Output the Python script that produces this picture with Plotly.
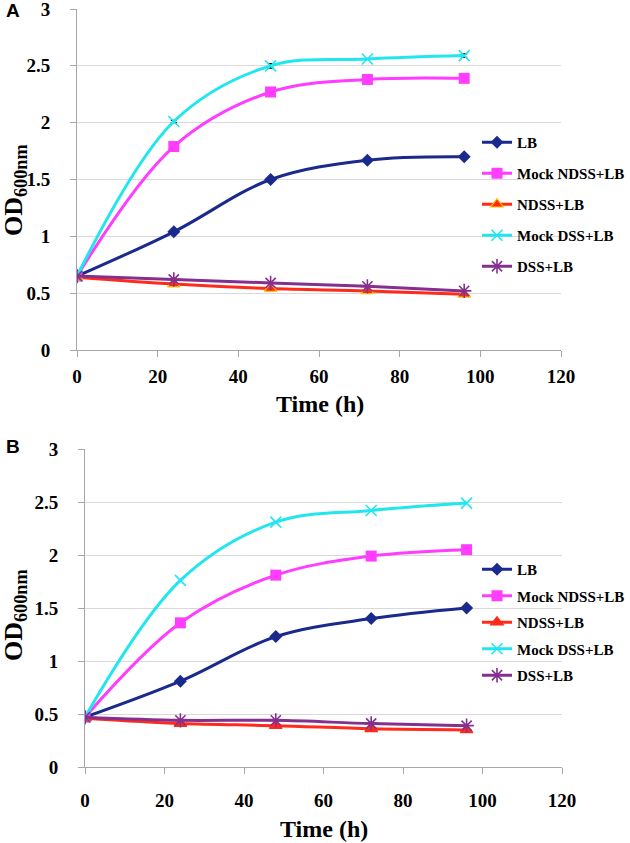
"""Bacterial growth curves (OD600) for panels A and B, redrawn with Plotly."""

import plotly.graph_objects as go

# time points (h)
hours = [0, 24, 48, 72, 96]

series_names = ["LB", "Mock NDSS+LB", "NDSS+LB", "Mock DSS+LB", "DSS+LB"]

# panel A values
a_lb = [0.65, 1.04, 1.50, 1.67, 1.70]
a_mock_ndss = [0.65, 1.79, 2.27, 2.38, 2.39]
a_ndss = [0.64, 0.58, 0.54, 0.52, 0.49]
a_mock_dss = [0.65, 2.01, 2.50, 2.56, 2.59]
a_dss = [0.65, 0.62, 0.59, 0.56, 0.52]
a_mock_dss_err = [0, 0.01, 0.02, 0, 0.015]
a_lb_err = [0, 0, 0, 0.02, 0]

# panel B values
b_lb = [0.47, 0.81, 1.23, 1.40, 1.50]
b_mock_ndss = [0.47, 1.36, 1.81, 1.99, 2.05]
b_ndss = [0.46, 0.41, 0.39, 0.36, 0.35]
b_mock_dss = [0.47, 1.76, 2.31, 2.42, 2.49]
b_dss = [0.47, 0.44, 0.44, 0.41, 0.39]

x_ticks = [0, 20, 40, 60, 80, 100, 120]
y_ticks = [0, 0.5, 1, 1.5, 2, 2.5, 3]
y_tick_labels = ["0", "0.5", "1", "1.5", "2", "2.5", "3"]

colors = ["#1a2a8c", "#ff3cff", "#ff2a1a", "#22e6ee", "#84308f"]
symbols = ["diamond", "square", "triangle-up", "x-thin", "asterisk-open"]
sizes = [10, 11, 11, 11, 12]

SERIF = "Liberation Serif"
W, H = 630, 843


def px_x(v):
    return v / W


def px_y(v):
    return 1 - v / H


fig = go.Figure()


def add_panel(values, xa, ya, legend, errors=None, tri_edge="#ff2a1a"):
    errors = errors or {}
    for i, (name, ys) in enumerate(zip(series_names, values)):
        sym_line = dict(width=0)
        if symbols[i] in ("x-thin", "asterisk-open"):
            sym_line = dict(width=1.6, color=colors[i])
        elif symbols[i] == "triangle-up":
            sym_line = dict(width=1.2, color=tri_edge)
        err = None
        if i in errors:
            err = dict(type="data", array=errors[i], visible=True,
                       color="black", thickness=1.3, width=3)
        fig.add_trace(go.Scatter(
            x=hours, y=ys, name=name, mode="lines+markers",
            xaxis=xa, yaxis=ya, legend=legend, legendgroup=legend + name,
            line=dict(color=colors[i], width=3, shape="spline", smoothing=1),
            marker=dict(symbol=symbols[i], size=sizes[i], color=colors[i], line=sym_line),
            error_y=err,
        ))


add_panel([a_lb, a_mock_ndss, a_ndss, a_mock_dss, a_dss], "x", "y", "legend",
          errors={0: a_lb_err, 3: a_mock_dss_err}, tri_edge="#ffc000")
add_panel([b_lb, b_mock_ndss, b_ndss, b_mock_dss, b_dss], "x2", "y2", "legend2")

tick_font = dict(family=SERIF, size=19, color="black", weight=700)
axis_common = dict(
    showgrid=False, showline=True, linecolor="#a6a6a6", linewidth=1.2,
    ticks="outside", ticklen=6, tickcolor="#a6a6a6", ticklabeloverflow="allow",
    tickfont=tick_font, zeroline=False, fixedrange=True, automargin=False,
)
xaxis_common = dict(axis_common, range=[0, 120], tickvals=x_ticks)
# en space + three-per-em space after each label pushes it away from the axis
yaxis_common = dict(axis_common, range=[0, 3], tickvals=y_ticks,
                    ticktext=[t + "\u2002\u2004" for t in y_tick_labels],
                    showgrid=True, gridcolor="#d9d9d9", gridwidth=1)

legend_common = dict(
    font=dict(family=SERIF, size=15, color="black", weight=700),
    bgcolor="rgba(0,0,0,0)", traceorder="grouped", itemwidth=30,
    xanchor="left", yanchor="top",
)

fig.update_layout(
    width=W, height=H,
    margin=dict(l=0, r=0, t=0, b=0, autoexpand=False),
    plot_bgcolor="white", paper_bgcolor="white",
    font=dict(family=SERIF),
    xaxis=dict(xaxis_common, domain=[px_x(77), px_x(561)], anchor="y", ticklabelstandoff=3),
    yaxis=dict(yaxis_common, domain=[px_y(350), px_y(9)], anchor="x"),
    xaxis2=dict(xaxis_common, domain=[px_x(85), px_x(562)], anchor="y2", ticklabelstandoff=10),
    yaxis2=dict(yaxis_common, domain=[px_y(767), px_y(449)], anchor="x2"),
    legend=dict(legend_common, x=px_x(477), y=px_y(126), tracegroupgap=8.5),
    legend2=dict(legend_common, x=px_x(477), y=px_y(553), tracegroupgap=4),
    showlegend=True,
)

# panel letters
for label, cy in [("A", 11), ("B", 447)]:
    fig.add_annotation(text="<b>%s</b>" % label, x=px_x(13), y=px_y(cy),
                       xref="paper", yref="paper", showarrow=False,
                       xanchor="center", yanchor="middle",
                       font=dict(family="Liberation Sans", size=19, color="black"))

# axis titles
for cx, cy in [(320, 404), (324, 829)]:
    fig.add_annotation(text="<b>Time (h)</b>", x=px_x(cx), y=px_y(cy),
                       xref="paper", yref="paper", showarrow=False,
                       xanchor="center", yanchor="middle",
                       font=dict(family=SERIF, size=24, color="black"))
for cy in [190, 615]:
    fig.add_annotation(text="<b>OD<sub>600nm</sub></b>", x=px_x(15), y=px_y(cy),
                       xref="paper", yref="paper", showarrow=False, textangle=-90,
                       xanchor="center", yanchor="middle",
                       font=dict(family=SERIF, size=26, color="black"))

# drop the page's default 8px body margin so the figure sits at the corner
fig.write_html("out.html", config={"displayModeBar": False},
               post_script="document.body.style.margin = '0';")
